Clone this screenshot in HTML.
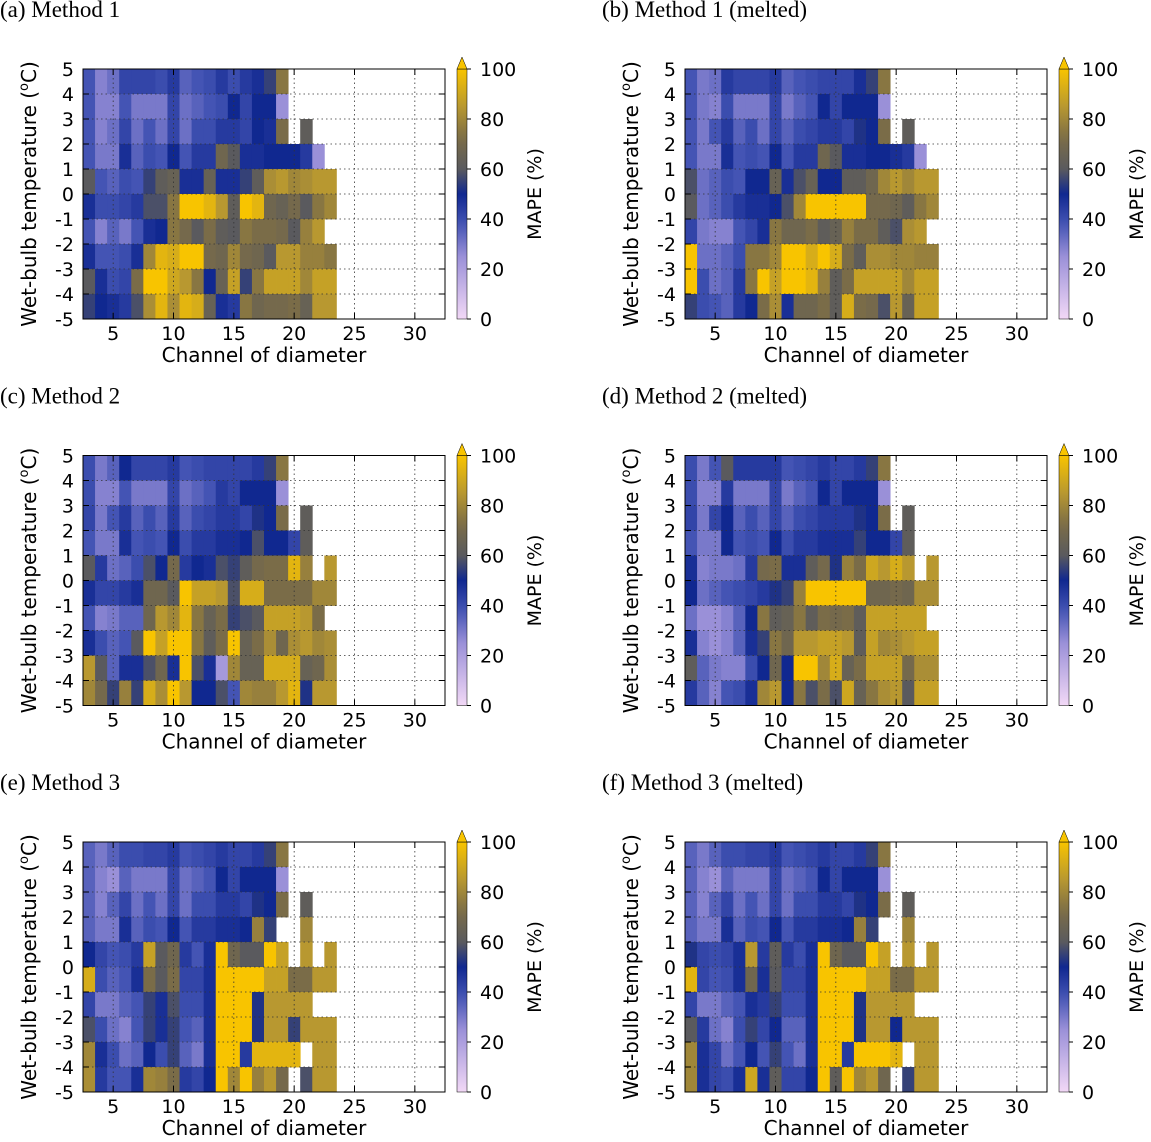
<!DOCTYPE html>
<html><head><meta charset="utf-8"><style>
html,body{margin:0;padding:0;background:#fff;}
svg{display:block;}
</style></head><body>
<svg id="fig" width="1151" height="1142" viewBox="0 0 1151 1142" xmlns="http://www.w3.org/2000/svg"></svg>
<script>
const channels = [3,4,5,6,7,8,9,10,11,12,13,14,15,16,17,18,19,20,21,22,23];
const temps = [4.5,3.5,2.5,1.5,0.5,-0.5,-1.5,-2.5,-3.5,-4.5];
const xTicks = [5,10,15,20,25,30];
const yTicks = [5,4,3,2,1,0,-1,-2,-3,-4,-5];
const cbTicks = [0,20,40,60,80,100];
const titles = ["(a) Method 1","(b) Method 1 (melted)","(c) Method 2","(d) Method 2 (melted)","(e) Method 3","(f) Method 3 (melted)"];
const N = null;
const panelA = [
[38,28,32,42,42,42,40,45,35,38,40,45,40,45,48,55,75,N,N,N,N],
[38,28,28,38,30,30,30,42,32,35,38,40,50,42,50,50,25,N,N,N,N],
[38,28,32,42,32,38,32,42,32,40,40,45,45,42,50,48,72,N,62,N,N],
[38,30,30,48,35,40,38,50,38,45,45,68,60,48,48,50,50,50,45,25,N],
[60,38,35,40,38,55,62,65,48,48,65,48,48,55,62,82,85,80,82,85,85],
[48,40,40,42,45,58,58,75,100,100,95,85,62,100,95,68,65,70,60,75,80],
[38,28,35,30,38,48,50,75,70,60,72,62,60,75,72,72,70,60,78,85,N],
[48,38,38,40,48,80,95,92,100,100,70,68,80,70,68,60,85,85,78,78,75],
[60,48,40,42,72,100,100,90,85,75,50,65,88,55,75,88,88,88,80,88,88],
[55,50,48,45,58,82,95,82,95,92,65,48,45,75,68,70,70,72,65,85,85]];
const panelB = [
[38,30,32,45,42,42,42,45,35,38,40,42,42,42,48,55,75,N,N,N,N],
[38,30,28,40,30,30,30,42,30,35,38,50,42,50,50,50,25,N,N,N,N],
[38,30,38,45,35,40,32,42,35,40,42,45,45,42,52,50,72,N,62,N,N],
[38,30,30,48,38,40,38,50,38,45,45,68,60,48,48,50,50,48,45,25,N],
[58,32,35,40,38,50,50,65,48,58,65,50,50,62,62,68,80,85,80,85,85],
[60,32,35,40,45,48,48,50,58,80,100,100,100,100,100,70,70,68,62,75,80],
[42,30,28,28,38,42,48,75,68,68,72,62,65,78,72,72,62,58,82,85,N],
[100,32,32,35,40,75,75,80,100,100,92,100,92,72,62,82,82,80,80,78,78],
[100,40,32,35,45,75,100,88,100,100,95,78,62,72,88,88,88,88,80,88,88],
[55,40,38,35,45,50,72,82,48,68,68,72,62,92,72,70,58,85,65,88,88]];
const panelC = [
[40,30,35,50,42,42,42,45,38,40,42,42,42,42,45,55,75,N,N,N,N],
[40,28,28,38,30,30,30,42,32,35,38,45,42,50,50,50,25,N,N,N,N],
[42,30,38,45,35,40,35,45,35,40,42,45,45,42,52,50,72,N,62,N,N],
[38,30,30,48,38,40,38,50,40,45,45,48,48,50,58,50,50,42,62,N,N],
[60,45,32,35,40,58,50,70,45,50,48,58,55,62,70,72,72,95,78,N,85],
[48,42,42,45,48,68,68,60,100,88,88,85,58,92,92,72,72,72,72,80,80],
[38,28,30,35,35,68,85,80,95,75,65,72,55,58,60,88,88,88,85,72,N],
[48,40,35,38,60,100,88,100,100,75,62,72,100,65,72,82,68,82,85,80,82],
[85,60,35,48,48,58,68,48,100,58,48,22,80,65,65,92,92,92,65,68,82],
[80,70,55,78,55,92,82,100,85,50,50,58,38,80,78,78,85,95,52,85,85]];
const panelD = [
[40,30,38,60,45,45,45,45,38,40,42,45,42,42,45,55,75,N,N,N,N],
[40,28,28,45,30,30,30,42,30,35,38,50,42,50,50,50,25,N,N,N,N],
[42,30,42,50,35,40,35,42,35,40,42,45,45,45,52,50,72,N,62,N,N],
[38,30,30,50,38,40,38,50,40,45,45,48,48,48,55,50,50,42,62,N,N],
[48,28,30,30,32,45,70,72,48,48,62,70,52,78,72,90,85,92,85,N,85],
[50,32,35,38,40,42,45,52,55,78,100,100,100,100,100,68,68,70,68,82,82],
[32,25,25,28,35,50,75,62,65,75,62,72,70,72,62,88,88,88,88,88,N],
[48,28,25,28,35,48,55,75,68,85,85,88,88,85,62,88,80,82,85,88,88],
[62,35,30,28,28,40,50,68,50,100,100,80,92,65,72,88,88,88,70,82,82],
[45,35,28,38,40,48,80,85,50,75,58,72,58,90,65,75,82,85,60,88,88]];
const panelE = [
[35,30,35,40,40,42,42,45,38,40,42,45,42,42,45,55,75,N,N,N,N],
[35,28,25,35,30,30,30,42,32,35,38,50,42,50,50,50,25,N,N,N,N],
[35,28,35,42,32,38,32,42,32,40,40,45,45,42,52,50,72,N,62,N,N],
[35,30,30,48,35,40,38,50,38,45,45,48,48,50,78,55,N,N,80,N,N],
[50,42,38,40,45,88,60,68,45,38,48,100,68,60,60,100,88,N,85,N,85],
[92,40,35,38,48,72,60,72,42,42,48,100,100,100,100,88,88,72,72,85,85],
[42,30,30,35,38,55,48,58,40,40,48,100,100,100,52,85,85,85,85,N,N],
[58,40,32,28,38,55,48,55,38,35,48,100,100,100,52,85,85,55,85,85,85],
[80,48,40,32,35,50,40,55,35,30,48,100,100,45,95,95,95,95,N,85,85],
[82,45,38,38,48,80,78,72,45,42,50,100,80,100,78,85,70,N,58,85,85]];
const panelF = [
[35,30,35,40,40,42,42,45,38,40,42,45,42,42,45,55,75,N,N,N,N],
[35,28,25,35,30,30,30,42,32,35,38,50,42,50,50,50,25,N,N,N,N],
[35,28,35,42,32,38,32,42,32,40,40,45,45,42,52,50,72,N,62,N,N],
[35,30,30,48,35,40,38,50,38,45,45,48,48,50,78,55,N,N,80,N,N],
[52,42,40,42,48,85,45,62,45,40,48,100,68,60,60,100,88,N,85,N,85],
[95,42,38,40,48,68,48,60,42,42,48,100,100,100,100,88,88,72,72,85,85],
[42,30,30,35,38,48,45,55,40,40,48,100,100,100,52,85,85,85,85,N,N],
[60,45,32,28,40,55,42,50,35,35,48,100,100,100,52,85,85,50,85,85,85],
[80,48,42,32,38,50,38,55,38,32,48,100,100,45,100,100,100,95,N,85,85],
[80,48,42,40,48,90,48,62,42,42,50,100,62,100,80,85,68,N,55,85,85]];
const panels = [panelA,panelB,panelC,panelD,panelE,panelF];

const NS="http://www.w3.org/2000/svg";
const svg=document.getElementById('fig');
function mk(tag,attrs,parent){const e=document.createElementNS(NS,tag);for(const k in attrs)e.setAttribute(k,attrs[k]);(parent||svg).appendChild(e);return e;}
const stops=[[0,[242,216,246]],[25,[154,144,216]],[38,[68,84,180]],[50,[16,40,144]],[60,[90,90,94]],[72,[122,108,72]],[85,[184,152,48]],[100,[248,196,0]]];
function color(v){v=Math.max(0,Math.min(100,v));for(let i=1;i<stops.length;i++){if(v<=stops[i][0]){const a=stops[i-1],b=stops[i];const t=(v-a[0])/(b[0]-a[0]);const c=a[1].map((x,j)=>Math.round(x+(b[1][j]-x)*t));return `rgb(${c[0]},${c[1]},${c[2]})`;}}return 'rgb(248,196,0)';}
const W=362,H=250,font='"DejaVu Sans","Liberation Sans",sans-serif';
let gid=0;
panels.forEach((data,p)=>{
  const ox=83+(p%2)*602, oy=69+Math.floor(p/2)*386.5;
  const g=mk('g',{});
  
  
  const xs=ch=>ox+(ch-2.5)*W/30;
  const ys=t=>oy+(5-t)*H/10;
  const tt=mk('text',{x:ox-83,y:oy-52,'font-family':'"Liberation Serif",serif','font-size':23},g);
  tt.textContent=titles[p];
  
  
  data.forEach((row,r)=>row.forEach((v,c)=>{
    if(v===null)return;
    const x1=xs(channels[c]-0.5),x2=xs(channels[c]+0.5),y1=ys(temps[r]+0.5),y2=ys(temps[r]-0.5);
    const rc=mk('rect',{x:x1,y:y1,width:x2-x1+0.4,height:y2-y1+0.4,fill:color(v)},g);
    
    
  }));
  xTicks.forEach(t=>{const x=xs(t);
    mk('line',{x1:x,y1:oy,x2:x,y2:oy+H,stroke:'#333','stroke-width':0.8,'stroke-dasharray':'1.5,3'},g);
    mk('line',{x1:x,y1:oy,x2:x,y2:oy+6,stroke:'#000'},g);mk('line',{x1:x,y1:oy+H,x2:x,y2:oy+H-6,stroke:'#000'},g);
    const tl=mk('text',{x:x,y:oy+H+21,'text-anchor':'middle','font-family':font,'font-size':19},g);tl.textContent=t;
    
    
  });
  yTicks.forEach(t=>{const y=ys(t);
    if(t<5&&t>-5)mk('line',{x1:ox,y1:y,x2:ox+W,y2:y,stroke:'#333','stroke-width':0.8,'stroke-dasharray':'1.5,3'},g);
    mk('line',{x1:ox,y1:y,x2:ox+6,y2:y,stroke:'#000'},g);mk('line',{x1:ox+W,y1:y,x2:ox+W-6,y2:y,stroke:'#000'},g);
    const tl=mk('text',{x:ox-9,y:y+7,'text-anchor':'end','font-family':font,'font-size':19},g);tl.textContent=t;
    
    
  });
  mk('rect',{x:ox,y:oy,width:W,height:H,fill:'none',stroke:'#000','stroke-width':1},g);
  const xt=mk('text',{x:ox+181,y:oy+H+43,'text-anchor':'middle','font-family':font,'font-size':20},g);xt.textContent='Channel of diameter';
  
  
  const yt=mk('text',{x:0,y:0,'text-anchor':'middle','font-family':font,'font-size':20,transform:`translate(${ox-47},${oy+H/2}) rotate(-90)`},g);
  yt.innerHTML='Wet-bulb temperature (<tspan dy="-8" font-size="13">o</tspan><tspan dy="8">C)</tspan>';
  
  
  const cx=ox+374,cw=10;
  const gradId='cg'+(gid++);
  const defs=mk('defs',{},g);const lg=mk('linearGradient',{id:gradId,x1:0,y1:1,x2:0,y2:0},defs);
  for(let v=0;v<=100;v+=5)mk('stop',{offset:v/100,'stop-color':color(v)},lg);
  const cb=mk('rect',{x:cx,y:oy,width:cw,height:H,fill:`url(#${gradId})`,stroke:'#000','stroke-width':0.5},g);
  
  
  mk('polygon',{points:`${cx},${oy} ${cx+cw},${oy} ${cx+cw/2},${oy-12}`,fill:color(100),stroke:'#000','stroke-width':0.5},g);
  cbTicks.forEach(v=>{const y=oy+H-v/100*H;
    mk('line',{x1:cx+cw,y1:y,x2:cx+cw+4,y2:y,stroke:'#000'},g);
    const cl=mk('text',{x:cx+23,y:y+7,'font-family':font,'font-size':19},g);cl.textContent=v;
    
    
  });
  const ct=mk('text',{x:0,y:0,'text-anchor':'middle','font-family':font,'font-size':19,transform:`translate(${cx+84},${oy+H/2}) rotate(-90)`},g);ct.textContent='MAPE (%)';
  
  
});
</script>
</body></html>
